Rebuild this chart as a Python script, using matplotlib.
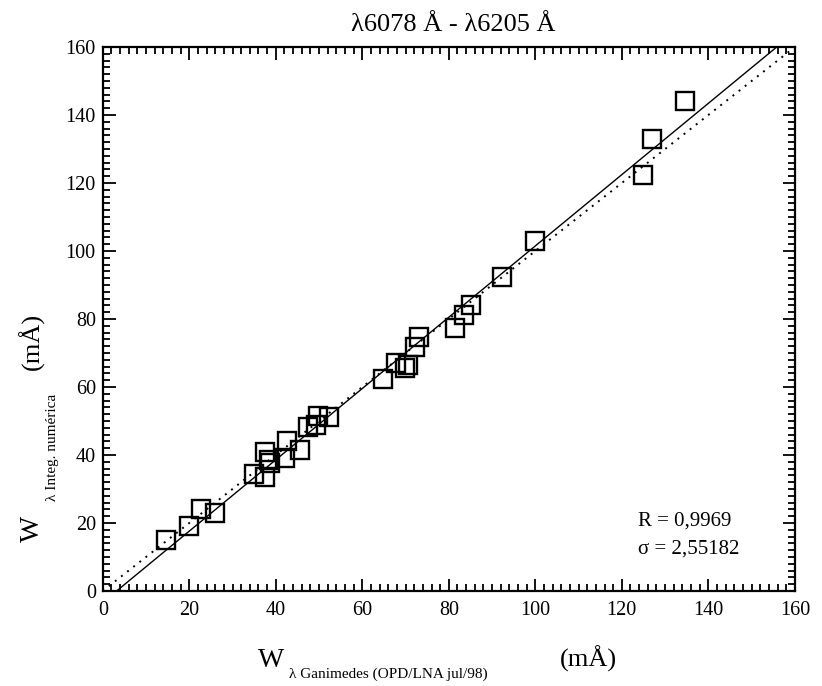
import numpy as np
import matplotlib.pyplot as plt
from matplotlib.ticker import MultipleLocator

plt.rcParams['font.family'] = ['Liberation Serif', 'DejaVu Serif']

# equivalent widths (mA)
w_ganimedes = [14.7, 20.0, 22.8, 25.9, 35.0, 37.6, 37.6, 38.5, 38.6, 42.1,
               42.5, 45.5, 47.5, 49.4, 49.8, 52.3, 64.8, 67.9, 69.8, 70.6,
               72.1, 73.1, 81.5, 83.5, 85.2, 92.3, 100.0, 124.9, 126.9, 134.6]
w_integ = [15.0, 19.2, 24.0, 23.0, 34.4, 33.4, 41.0, 38.5, 37.6, 39.0,
           44.2, 41.5, 48.3, 48.8, 51.5, 51.3, 62.4, 67.0, 65.6, 66.6,
           71.9, 74.8, 77.3, 81.2, 84.1, 92.4, 102.8, 122.4, 132.8, 144.0]

fit_slope = 1.0485
fit_intercept = -3.36
R = '0,9969'
sigma = '2,55182'

fig = plt.figure(figsize=(8.22, 6.86), dpi=100)
ax = fig.add_axes([0.125, 0.1385, 0.842, 0.793])

xx = np.array([0, 160])
ax.plot(xx, fit_slope*xx + fit_intercept, color='black', lw=1.0)
ax.plot(xx, xx, color='black', lw=1.4, linestyle=(0, (1, 3)))
ax.plot(w_ganimedes, w_integ, 's', mfc='none', mec='black', ms=12.5, mew=1.7)

ax.set_xlim(0, 160)
ax.set_ylim(0, 160)
ax.xaxis.set_major_locator(MultipleLocator(20))
ax.yaxis.set_major_locator(MultipleLocator(20))
ax.xaxis.set_minor_locator(MultipleLocator(2))
ax.yaxis.set_minor_locator(MultipleLocator(2))
ax.tick_params(which='both', direction='in', top=True, right=True, width=1.3)
ax.tick_params(which='major', length=9, labelsize=14.5, pad=7)
ax.tick_params(axis='y', which='major', pad=5)
ax.tick_params(which='minor', length=5)
for s in ax.spines.values():
    s.set_linewidth(1.6)

ax.text(0.773, 0.12, 'R = ' + R, transform=ax.transAxes, fontsize=15)
ax.text(0.773, 0.068, '\u03c3 = ' + sigma, transform=ax.transAxes, fontsize=15)

fig.text(0.551, 0.963, '\u03bb6078 \u00c5 - \u03bb6205 \u00c5', ha='center', va='center', fontsize=19)

# x label
fig.text(0.314, 0.028, 'W', fontsize=20, ha='left', va='baseline')
fig.text(0.352, 0.012, '\u03bb Ganimedes (OPD/LNA jul/98)', fontsize=11, ha='left', va='baseline')
fig.text(0.681, 0.028, '(m\u00c5)', fontsize=19, ha='left', va='baseline')

# y label
fig.text(0.055, 0.21, 'W', fontsize=20, rotation=90, ha='right', va='bottom')
fig.text(0.072, 0.27, '\u03bb Integ. num\u00e9rica', fontsize=11, rotation=90, ha='right', va='bottom')
fig.text(0.055, 0.46, '(m\u00c5)', fontsize=19, rotation=90, ha='right', va='bottom')

fig.savefig('out.png', dpi=100)
